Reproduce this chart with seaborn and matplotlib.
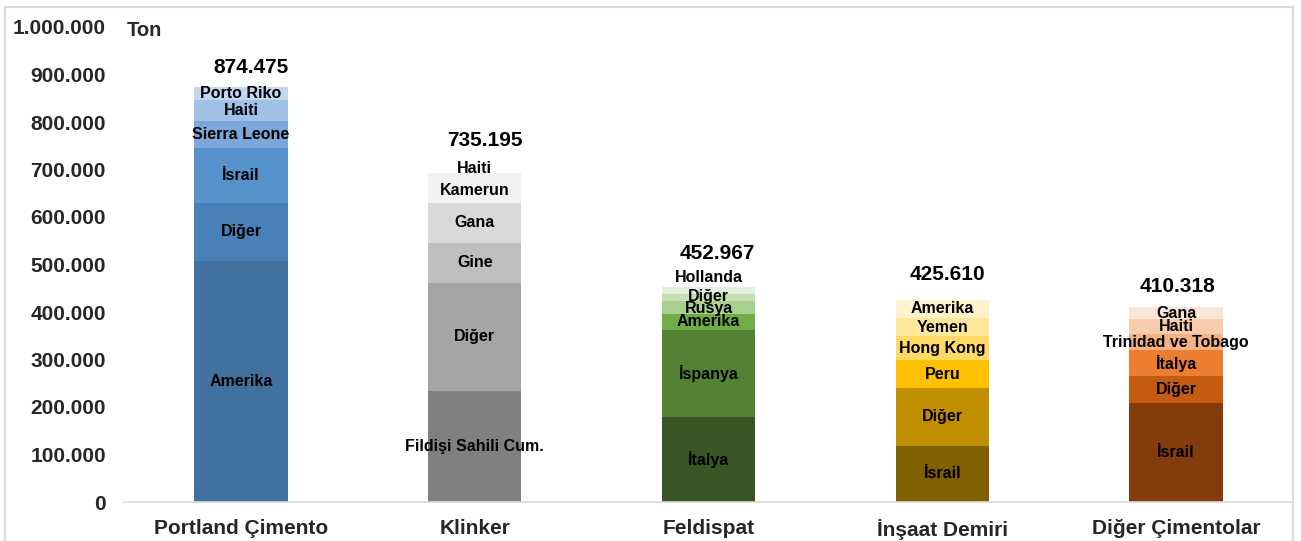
import matplotlib
matplotlib.use("Agg")
import matplotlib.pyplot as plt
import seaborn as sns
import pandas as pd
from matplotlib.patches import Rectangle
from matplotlib.ticker import FuncFormatter, MultipleLocator

# Export by product (tons), stacked by destination country, bottom to top
categories = ["Portland Çimento", "Klinker", "Feldispat", "İnşaat Demiri", "Diğer Çimentolar"]

portland_countries = ["Amerika", "Diğer", "İsrail", "Sierra Leone", "Haiti", "Porto Riko"]
portland_values = [506500, 124000, 114500, 58000, 44000, 27475]

klinker_countries = ["Fildişi Sahili Cum.", "Diğer", "Gine", "Gana", "Kamerun", "Haiti"]
klinker_values = [234000, 228000, 84000, 83000, 63500, 42695]

feldispat_countries = ["İtalya", "İspanya", "Amerika", "Rusya", "Diğer", "Hollanda"]
feldispat_values = [180000, 183000, 33500, 26000, 15500, 14967]

demir_countries = ["İsrail", "Diğer", "Peru", "Hong Kong", "Yemen", "Amerika"]
demir_values = [118500, 121000, 58500, 51000, 38800, 37810]

diger_countries = ["İsrail", "Diğer", "İtalya", "Trinidad ve Tobago", "Haiti", "Gana"]
diger_values = [207500, 58500, 53000, 34000, 31800, 25518]

totals = ["874.475", "735.195", "452.967", "425.610", "410.318"]

countries = [portland_countries, klinker_countries, feldispat_countries,
             demir_countries, diger_countries]
values = [portland_values, klinker_values, feldispat_values,
          demir_values, diger_values]

# shades per bar, dark (bottom) to light (top)
colors = [
    ["#42719f", "#4a80b8", "#5692cd", "#7ba7da", "#a0c0e6", "#c2d6ef"],
    ["#808080", "#a5a5a5", "#bfbfbf", "#d9d9d9", "#f2f2f2", "#ffffff"],
    ["#375623", "#548235", "#70ad47", "#a9d08e", "#c6e0b4", "#e2efda"],
    ["#7f6000", "#bf8f00", "#ffc000", "#ffd966", "#ffe699", "#fff2cc"],
    ["#843c0c", "#c55a11", "#ed7d31", "#f4b183", "#f8cbad", "#fbe5d6"],
]

# label nudges (points): totals (dx, dy above bar) and crowded segment labels
total_offsets = [(7, 14), (7, 9), (6, 24), (4, 18), (1, 15)]
segment_nudge = {(1, 4): -2, (1, 5): -4, (2, 3): -1, (2, 4): 1, (2, 5): 9}

sns.set_theme(style="white")
plt.rcParams["font.family"] = ["Liberation Sans", "DejaVu Sans"]
plt.rcParams["font.weight"] = "bold"

fig = plt.figure(figsize=(13.01, 5.41), dpi=100)
ax = fig.add_axes([124 / 1301, 1 - 502 / 541, 1169 / 1301, 475 / 541])

n_levels = len(portland_values)
cums = []
for vals in values:
    run, c = 0, []
    for v in vals:
        run += v
        c.append(run)
    cums.append(c)

# draw tallest cumulative layer first, then overdraw lower layers
for level in reversed(range(n_levels)):
    df = pd.DataFrame({"cat": categories, "top": [c[level] for c in cums]})
    pal = {cat: colors[i][level] for i, cat in enumerate(categories)}
    sns.barplot(data=df, x="cat", y="top", hue="cat", palette=pal, order=categories,
                hue_order=categories, width=0.4, saturation=1, legend=False,
                linewidth=0, ax=ax)

for i in range(len(categories)):
    bottom = 0
    for j, (name, v) in enumerate(zip(countries[i], values[i])):
        ax.annotate(name, (i, bottom + v / 2), xytext=(0, segment_nudge.get((i, j), 0)),
                    textcoords="offset points", ha="center", va="center",
                    fontsize=11.5, fontweight="bold", color="black")
        bottom += v
    dx, dy = total_offsets[i]
    ax.annotate(totals[i], (i, cums[i][-1]), xytext=(dx, dy), textcoords="offset points",
                ha="center", va="center", fontsize=15, fontweight="bold", color="black")

ax.set_xlim(-0.5, 4.5)
ax.set_ylim(0, 1_000_000)
ax.yaxis.set_major_locator(MultipleLocator(100_000))
ax.yaxis.set_major_formatter(FuncFormatter(lambda v, p: f"{int(v):,}".replace(",", ".")))
ax.set_xlabel("")
ax.set_ylabel("")
ax.tick_params(axis="y", length=0, pad=13, labelsize=15)
ax.tick_params(axis="x", which="major", length=0, pad=12, labelsize=15)
ax.set_xticks([x - 0.5 for x in range(6)], minor=True)
ax.tick_params(axis="x", which="minor", length=5, color="#d9d9d9", width=1, direction="out")
for lab in ax.get_xticklabels() + ax.get_yticklabels():
    lab.set_fontweight("bold")
for s in ["top", "right", "left"]:
    ax.spines[s].set_visible(False)
ax.spines["bottom"].set_color("#d9d9d9")
ax.spines["bottom"].set_linewidth(1.2)

ax.text(0.002, 0.993, "Ton", transform=ax.transAxes, ha="left", va="center",
        fontsize=14.5, fontweight="bold")

fig.patches.append(Rectangle((5 / 1301, -0.02), 1288 / 1301, 1.02 - 7 / 541,
                             transform=fig.transFigure, fill=False,
                             edgecolor="#d9d9d9", linewidth=1.5))

fig.savefig("out.png", dpi=100)
